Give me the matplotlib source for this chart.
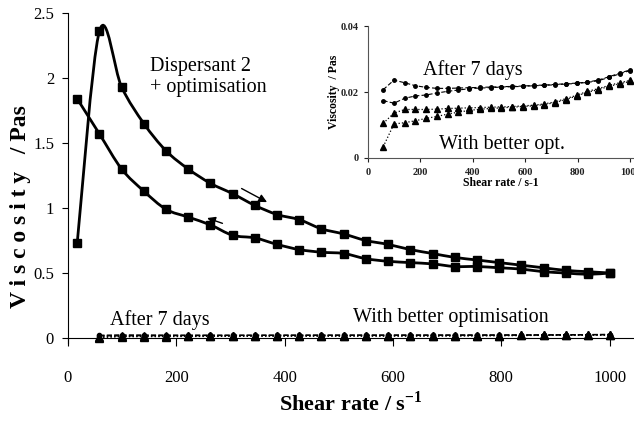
import numpy as np
import matplotlib
matplotlib.use("Agg")
import matplotlib.pyplot as plt
from matplotlib.path import Path
from matplotlib.patches import PathPatch

plt.rcParams['font.family'] = ['Liberation Serif', 'DejaVu Serif']
plt.rcParams['mathtext.fontset'] = 'custom'
plt.rcParams['mathtext.rm'] = 'Liberation Serif'
plt.rcParams['mathtext.bf'] = 'Liberation Serif:bold'

# shear rate grid of the dispersant 2 curves (s-1)
shear = [17, 58, 99, 140, 181, 222, 263, 304, 345, 386, 427, 468, 509,
         550, 591, 632, 673, 714, 755, 796, 837, 878, 919, 960, 1000]
# viscosity (Pas), ramp up and ramp down
visc_up = [0.73, 2.36, 1.93, 1.65, 1.44, 1.30, 1.19, 1.11, 1.02, 0.95, 0.91,
           0.84, 0.80, 0.75, 0.72, 0.68, 0.65, 0.62, 0.60, 0.58, 0.56, 0.54,
           0.52, 0.51, 0.50]
visc_down = [1.84, 1.57, 1.30, 1.13, 0.99, 0.93, 0.87, 0.79, 0.77, 0.72, 0.68,
             0.66, 0.65, 0.61, 0.59, 0.58, 0.57, 0.55, 0.55, 0.54, 0.53, 0.51,
             0.50, 0.49, 0.50]

# low viscosity samples
shear2 = [58, 99, 140, 181, 222, 263, 304, 345, 386, 427, 468, 509, 550,
          591, 632, 673, 714, 755, 796, 837, 878, 919, 960, 1000]
days7_a = [0.0207, 0.0236, 0.0228, 0.0219, 0.0214, 0.0211, 0.0211, 0.0212,
           0.0213, 0.0214, 0.0215, 0.0216, 0.0217, 0.0218, 0.0220, 0.0221,
           0.0223, 0.0225, 0.0227, 0.0230, 0.0236, 0.0246, 0.0257, 0.0267]
days7_b = [0.0174, 0.0166, 0.0181, 0.0188, 0.0191, 0.0197, 0.0202, 0.0206,
           0.0210, 0.0212, 0.0213, 0.0215, 0.0216, 0.0217, 0.0219, 0.0220,
           0.0222, 0.0224, 0.0226, 0.0229, 0.0234, 0.0244, 0.0255, 0.0265]
better_a = [0.0105, 0.0136, 0.0147, 0.0147, 0.0147, 0.0148, 0.0150, 0.0151,
            0.0152, 0.0153, 0.0154, 0.0155, 0.0156, 0.0158, 0.0160, 0.0164,
            0.0170, 0.0180, 0.0190, 0.0202, 0.0210, 0.0220, 0.0228, 0.0235]
better_b = [0.0034, 0.0103, 0.0107, 0.0113, 0.0120, 0.0126, 0.0133, 0.0139,
            0.0144, 0.0148, 0.0150, 0.0152, 0.0154, 0.0156, 0.0158, 0.0162,
            0.0168, 0.0177, 0.0188, 0.0199, 0.0207, 0.0217, 0.0225, 0.0232]

x_ticks = [0, 200, 400, 600, 800, 1000]
y_ticks = [0, 0.5, 1, 1.5, 2, 2.5]
y_ticklabels = ['0', '0.5', '1', '1.5', '2', '2.5']
inset_yticks = [0, 0.02, 0.04]
inset_yticklabels = ['0', '0.02', '0.04']


def smooth_path(x, y):
    # excel style smoothed line (bezier through the points)
    pts = np.column_stack([x, y]).astype(float)
    n = len(pts)
    verts = [pts[0]]
    codes = [Path.MOVETO]
    for i in range(n - 1):
        p0 = pts[max(i - 1, 0)]
        p1 = pts[i]
        p2 = pts[i + 1]
        p3 = pts[min(i + 2, n - 1)]
        verts += [p1 + (p2 - p0) / 6, p2 - (p3 - p1) / 6, p2]
        codes += [Path.CURVE4] * 3
    return Path(verts, codes)


W, H = 634, 421
fig = plt.figure(figsize=(W / 100, H / 100), dpi=100)
ax = fig.add_axes([68 / W, 1 - 343.2 / H, (W - 68) / W, 330.2 / H])

for yv in (visc_up, visc_down):
    ax.add_patch(PathPatch(smooth_path(shear, yv), fill=False, lw=2, ec='k', zorder=3))
    ax.plot(shear, yv, 's', color='k', ms=5.5, zorder=4)

ax.plot(shear2, days7_a, '--', color='k', lw=1, marker='o', ms=3)
ax.plot(shear2, days7_b, '--', color='k', lw=1, marker='o', ms=3)
ax.plot(shear2, better_a, ':', color='k', lw=1, marker='^', ms=6)
ax.plot(shear2, better_b, ':', color='k', lw=1, marker='^', ms=6)

ax.set_xlim(0, 1045)
ax.set_ylim(-0.04, 2.5)
ax.set_xticks(x_ticks)
ax.set_yticks(y_ticks)
ax.set_yticklabels(y_ticklabels)
ax.spines['top'].set_visible(False)
ax.spines['right'].set_visible(False)
ax.spines['bottom'].set_position(('data', 0))
ax.tick_params(axis='x', direction='out', length=6, pad=17, labelsize=12)
ax.tick_params(axis='y', direction='out', length=4, pad=6, labelsize=12)

ax.set_xlabel('Shear rate / s$^{\\mathbf{-1}}$', fontsize=16, fontweight='bold')
ax.xaxis.set_label_coords(0.5, -0.145)
ax.set_ylabel('V i s c o s i t y   / Pas', fontsize=17, fontweight='bold')
ax.yaxis.set_label_coords(-0.066, 0.415)

ax.text(151, 2.01, 'Dispersant 2\n+ optimisation', fontsize=14.5,
        ha='left', va='center', linespacing=1.15)
ax.text(77, 0.14, 'After 7 days', fontsize=14.5, ha='left', va='center')
ax.text(526, 0.155, 'With better optimisation', fontsize=14.5, ha='left', va='center')

arrow = dict(arrowstyle='-|>', color='k', lw=1, mutation_scale=12)
ax.annotate('', xy=(372, 1.035), xytext=(316, 1.16), arrowprops=arrow)
ax.annotate('', xy=(252, 0.93), xytext=(290, 0.875), arrowprops=arrow)
ax.annotate('', xy=(408, -0.045), xytext=(351, 0.115), arrowprops=arrow)
ax.annotate('', xy=(472, -0.07), xytext=(508, 0.15), arrowprops=arrow)

# inset zoom on the low viscosity samples
ax2 = fig.add_axes([368 / W, 1 - 158 / H, (W - 368) / W, 132 / H])
ax2.patch.set_alpha(0)
ax2.plot(shear2, days7_a, '--', color='k', lw=0.8, marker='o', ms=2.5, dashes=(4, 2))
ax2.plot(shear2, days7_b, '--', color='k', lw=0.8, marker='o', ms=2.5, dashes=(4, 2))
ax2.plot(shear2, better_a, ':', color='k', lw=0.9, marker='^', ms=4)
ax2.plot(shear2, better_b, ':', color='k', lw=0.9, marker='^', ms=4)
ax2.set_xlim(0, 1015)
ax2.set_ylim(0, 0.04)
ax2.set_xticks(x_ticks)
ax2.set_yticks(inset_yticks)
ax2.set_yticklabels(inset_yticklabels)
for s in ('top', 'right'):
    ax2.spines[s].set_visible(False)
for s in ('left', 'bottom'):
    ax2.spines[s].set_color('#555555')
ax2.tick_params(direction='out', length=3, pad=4, labelsize=7.5, colors='#222222')
for lab in ax2.get_xticklabels() + ax2.get_yticklabels():
    lab.set_fontweight('bold')
ax2.set_xlabel('Shear rate / s-1', fontsize=8.5, fontweight='bold', labelpad=0)
ax2.set_ylabel('Viscosity  / Pas', fontsize=8.5, fontweight='bold', labelpad=0)
ax2.text(210, 0.0267, 'After 7 days', fontsize=14.5, ha='left', va='center')
ax2.text(271, 0.0040, 'With better opt.', fontsize=14.5, ha='left', va='center')

fig.savefig('out.png', dpi=100)
